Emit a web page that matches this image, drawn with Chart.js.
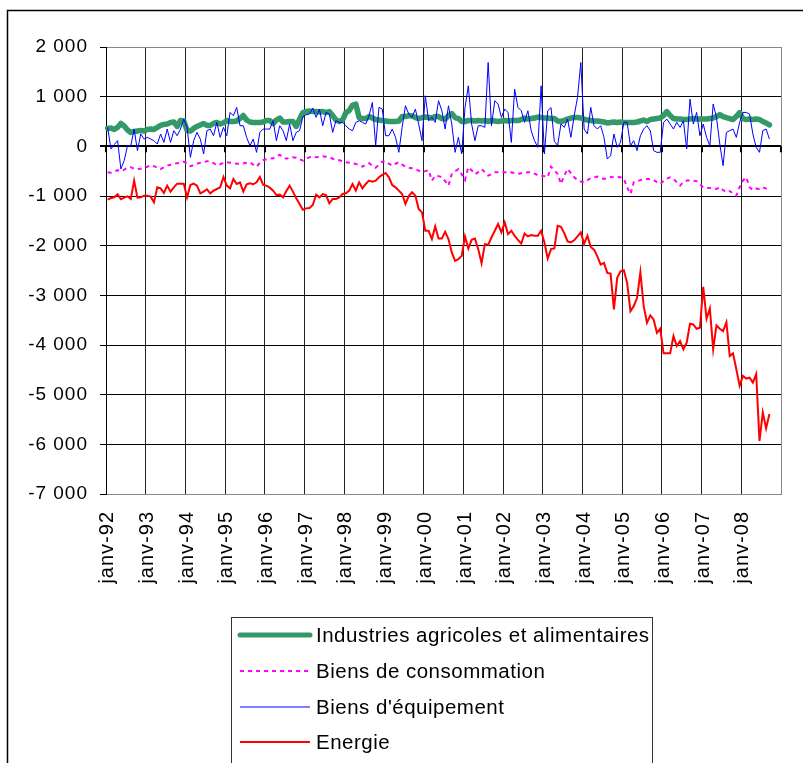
<!DOCTYPE html>
<html>
<head>
<meta charset="utf-8">
<script src="https://cdn.jsdelivr.net/npm/chart.js@4/dist/chart.umd.min.js"></script>
<style>
html,body{margin:0;padding:0;background:#fff;}
#wrap{width:803px;height:763px;}
</style>
</head>
<body>
<div id="wrap"><canvas id="c" width="803" height="763"></canvas></div>
<script>
// ---- categories ----
const monthNames = ['janv','févr','mars','avr','mai','juin','juil','août','sept','oct','nov','déc'];
const yearLabels = ['92','93','94','95','96','97','98','99','00','01','02','03','04','05','06','07','08'];
const categories = [];
yearLabels.forEach(y => monthNames.forEach(m => categories.push(m + '-' + y)));

// ---- y ticks ----
const yMin = -7000, yMax = 2000, yStep = 1000;

// ---- series (Jan 1992 .. Sep 2008) ----
const iaa = [
360,370,340,380,460,410,330,280,300,310,
320,310,340,350,340,380,420,440,450,480,
490,400,520,510,320,310,360,400,430,460,
420,420,460,480,450,470,520,500,500,510,
560,620,530,490,480,480,480,490,520,520,
460,530,570,490,490,500,500,400,550,680,
700,710,700,700,690,700,680,700,620,530,
500,530,680,720,830,850,580,560,560,600,
570,540,530,520,510,500,500,500,510,600,
600,620,610,580,560,580,590,580,570,600,
600,560,550,620,660,580,560,500,500,520,
520,510,520,510,520,500,520,510,500,510,
520,510,520,520,520,540,570,550,560,570,
590,580,570,570,560,560,510,500,520,550,
570,580,580,570,550,530,520,510,510,500,
490,470,480,490,480,490,480,480,480,480,
490,510,530,500,540,550,560,570,620,700,
620,560,550,550,540,540,550,560,550,550,
550,550,560,570,600,640,600,580,560,540,
600,680,560,540,550,540,550,540,500,470,
430];

const consommation = [
-520,-530,-510,-480,-500,-470,-430,-420,-450,-460,
-450,-430,-410,-380,-400,-430,-460,-420,-390,-370,
-350,-340,-330,-310,-340,-400,-380,-350,-330,-320,
-300,-300,-340,-380,-360,-330,-320,-330,-340,-350,
-350,-340,-330,-320,-370,-410,-330,-280,-260,-250,
-240,-200,-170,-210,-250,-230,-220,-230,-260,-290,
-250,-220,-210,-220,-210,-200,-210,-220,-250,-260,
-280,-300,-320,-330,-340,-355,-380,-410,-370,-340,
-390,-430,-370,-310,-300,-350,-390,-350,-320,-370,
-410,-430,-440,-460,-490,-520,-500,-480,-690,-590,
-600,-620,-700,-790,-560,-500,-460,-560,-680,-420,
-480,-560,-520,-460,-520,-590,-560,-523,-520,-520,
-523,-530,-523,-540,-556,-540,-530,-523,-520,-550,
-580,-590,-600,-623,-409,-480,-556,-757,-590,-456,
-540,-623,-680,-710,-724,-680,-640,-623,-610,-630,
-657,-640,-620,-610,-615,-623,-650,-824,-958,-724,
-700,-680,-657,-660,-657,-680,-720,-757,-700,-650,
-623,-657,-720,-791,-720,-690,-690,-690,-700,-760,
-824,-830,-840,-850,-858,-824,-880,-925,-900,-950,
-992,-824,-690,-623,-824,-880,-850,-860,-824,-850,
-880];

const equipement = [
382,-54,34,114,-456,-288,13,13,348,-87,
248,147,181,147,114,47,248,80,348,80,
315,214,348,549,382,-221,114,281,147,-154,
315,348,214,482,181,382,214,683,616,784,
415,415,181,13,147,-121,281,348,348,348,
516,114,415,315,114,449,114,281,315,596,
636,650,770,583,750,415,683,650,281,516,
482,482,415,348,315,482,516,482,449,616,
884,13,784,750,214,214,348,181,-121,382,
817,650,583,750,449,114,1018,516,583,482,
918,717,348,817,449,-121,181,-154,784,1219,
449,114,415,415,382,1688,415,918,851,583,
750,683,80,1152,784,717,482,717,315,114,
-20,1219,-154,717,780,100,20,449,382,549,
181,616,985,1688,348,248,784,415,348,415,
181,-255,-188,248,-20,80,482,482,13,114,
-87,214,348,415,315,-87,-121,-121,482,549,
449,348,482,382,516,-54,951,449,683,214,
449,181,13,851,583,47,-389,281,315,348,
181,482,683,683,650,248,-20,-121,315,348,
147];

const energie = [
-1074,-1040,-1027,-966,-1067,-1034,-1007,-1061,-690,-1034,
-1027,-993,-993,-1013,-1128,-825,-845,-939,-791,-912,
-825,-751,-751,-751,-1027,-778,-751,-791,-946,-912,
-865,-946,-892,-859,-825,-616,-791,-845,-657,-758,
-724,-912,-764,-744,-764,-724,-616,-778,-791,-832,
-892,-980,-973,-1027,-899,-791,-912,-1047,-1162,-1276,
-1249,-1242,-1182,-973,-1027,-960,-980,-1148,-1061,-1061,
-1027,-960,-946,-892,-758,-892,-724,-845,-758,-690,
-711,-690,-623,-576,-536,-623,-778,-825,-892,-960,
-1160,-1000,-926,-993,-1262,-1330,-1700,-1700,-1868,-1612,
-1855,-1855,-1720,-1868,-2137,-2306,-2272,-2205,-1814,-2057,
-1882,-1855,-2070,-2353,-1969,-1983,-1835,-1700,-1565,-1733,
-1531,-1767,-1700,-1801,-1882,-1956,-1754,-1814,-1787,-1801,
-1801,-1700,-1935,-2259,-2070,-2057,-1599,-1620,-1746,-1913,
-1933,-1893,-1813,-1732,-1960,-1800,-2027,-2080,-2214,-2381,
-2348,-2549,-2562,-3284,-2649,-2515,-2495,-2749,-3318,-3218,
-3050,-2535,-3218,-3552,-3405,-3485,-3753,-3673,-4168,-4168,
-4168,-3820,-4020,-3920,-4087,-3953,-3572,-3586,-3673,-3652,
-2830,-3472,-3264,-4087,-3606,-3673,-3720,-3539,-4221,-4168,
-4489,-4823,-4622,-4676,-4656,-4756,-4589,-5930,-5360,-5680,
-5390];

const seriesNames = ['Industries agricoles et alimentaires','Biens de consommation',"Biens d'équipement",'Energie'];

const FONT = 'Liberation Sans, Arial, sans-serif';

function fmt(v){
  const s = Math.abs(v).toString().replace(/\B(?=(\d{3})+(?!\d))/g, ' ');
  return (v < 0 ? '-' : '') + s;
}

const spacingPlugin = {
  id: 'spacing',
  beforeLayout(chart){ chart.ctx.letterSpacing = '1px'; },
  beforeDraw(chart){
    const ctx = chart.ctx;
    ctx.save();
    ctx.fillStyle = '#fff';
    ctx.fillRect(0,0,chart.width,chart.height);
    ctx.strokeStyle = '#000';
    ctx.lineWidth = 1.5;
    ctx.beginPath();
    ctx.moveTo(7.5, chart.height + 5);
    ctx.lineTo(7.5, 10.5);
    ctx.lineTo(chart.width + 5, 10.5);
    ctx.stroke();
    ctx.restore();
    ctx.letterSpacing = '1px';
  }
};

const zeroTicks = {
  id: 'zeroTicks',
  beforeDatasetsDraw(chart){
    const xs = chart.scales.x, ys = chart.scales.y, ctx = chart.ctx;
    const y0 = ys.getPixelForValue(0);
    const n = categories.length;
    ctx.save();
    ctx.strokeStyle = '#000';
    ctx.lineWidth = 2;
    ctx.beginPath();
    for (let b = 0; b <= n; b += 12) {
      const x = Math.round(xs.left + xs.width * b / n);
      ctx.moveTo(x, y0);
      ctx.lineTo(x, y0 + 6);
    }
    ctx.stroke();
    ctx.restore();
  }
};

const boxLegend = {
  id: 'boxLegend',
  afterDraw(chart){
    const ctx = chart.ctx;
    ctx.save();
    ctx.letterSpacing = '0.5px';
    ctx.strokeStyle = '#333';
    ctx.lineWidth = 1;
    ctx.strokeRect(231.5, 617.5, 421, 200);
    const rows = [635, 671, 707, 742];
    ctx.font = '20.5px ' + FONT;
    ctx.textBaseline = 'middle';
    ctx.textAlign = 'left';
    chart.data.datasets.forEach((ds, i) => {
      const y = rows[i];
      ctx.save();
      ctx.strokeStyle = ds.borderColor;
      ctx.lineWidth = ds.legendWidth || ds.borderWidth;
      ctx.setLineDash(ds.borderDash || []);
      ctx.lineCap = ds.legendCap || 'butt';
      ctx.beginPath();
      ctx.moveTo(i === 0 ? 240 : 240, y);
      ctx.lineTo(i === 0 ? 310 : 310, y);
      ctx.stroke();
      ctx.restore();
      ctx.fillStyle = '#000';
      ctx.fillText(ds.label, 316, y + 1);
    });
    ctx.restore();
  }
};

new Chart(document.getElementById('c'), {
  type: 'line',
  data: {
    labels: categories,
    datasets: [
      { label: seriesNames[0], data: iaa, borderColor: '#339966', backgroundColor: '#339966', borderWidth: 5.5, legendWidth: 5, legendCap: 'round', pointRadius: 0, tension: 0, order: 10, borderJoinStyle: 'round', borderCapStyle: 'round' },
      { label: seriesNames[1], data: consommation, borderColor: '#ff00ff', backgroundColor: '#ff00ff', borderWidth: 2, borderDash: [4, 4], pointRadius: 0, tension: 0, order: 3 },
      { label: seriesNames[2], data: equipement, borderColor: '#0000ff', backgroundColor: '#0000ff', borderWidth: 1, pointRadius: 0, tension: 0, order: 2 },
      { label: seriesNames[3], data: energie, borderColor: '#ff0000', backgroundColor: '#ff0000', borderWidth: 2, pointRadius: 0, tension: 0, order: 1 }
    ]
  },
  options: {
    responsive: false,
    animation: false,
    devicePixelRatio: 1,
    layout: { padding: { top: 47, right: 22, left: 0, bottom: 0 } },
    plugins: { legend: { display: false }, tooltip: { enabled: false } },
    scales: {
      x: {
        type: 'category',
        offset: true,
        grid: {
          offset: true,
          drawTicks: false,
          lineWidth: 1,
          color: (c) => c.type !== 'tick' ? '#888' : (c.index % 12 === 0 ? '#222' : 'rgba(0,0,0,0)')
        },
        border: { display: true, color: '#888', width: 1 },
        ticks: {
          autoSkip: false,
          maxRotation: 90,
          minRotation: 90,
          padding: 17,
          color: '#000',
          font: { family: FONT, size: 20 },
          callback: function(v, i){ return i % 12 === 0 ? this.getLabelForValue(v) : ''; }
        },
        afterFit: (s) => { s.height = 269; s.paddingLeft = 0; s.paddingRight = 0; }
      },
      y: {
        min: yMin,
        max: yMax,
        ticks: {
          stepSize: yStep,
          padding: 12,
          color: '#000',
          font: { family: FONT, size: 19 },
          callback: (v) => fmt(v)
        },
        grid: {
          color: (c) => (c.tick && c.tick.value === yMax) ? '#888' : '#000',
          lineWidth: (c) => (c.tick && c.tick.value === 0) ? 2 : 1,
          tickColor: '#000',
          tickLength: 6
        },
        border: { display: true, color: '#000', width: 1 },
        afterFit: (s) => { s.width = 106; s.paddingTop = 0; s.paddingBottom = 0; }
      }
    }
  },
  plugins: [spacingPlugin, zeroTicks, boxLegend]
});
</script>
</body>
</html>
